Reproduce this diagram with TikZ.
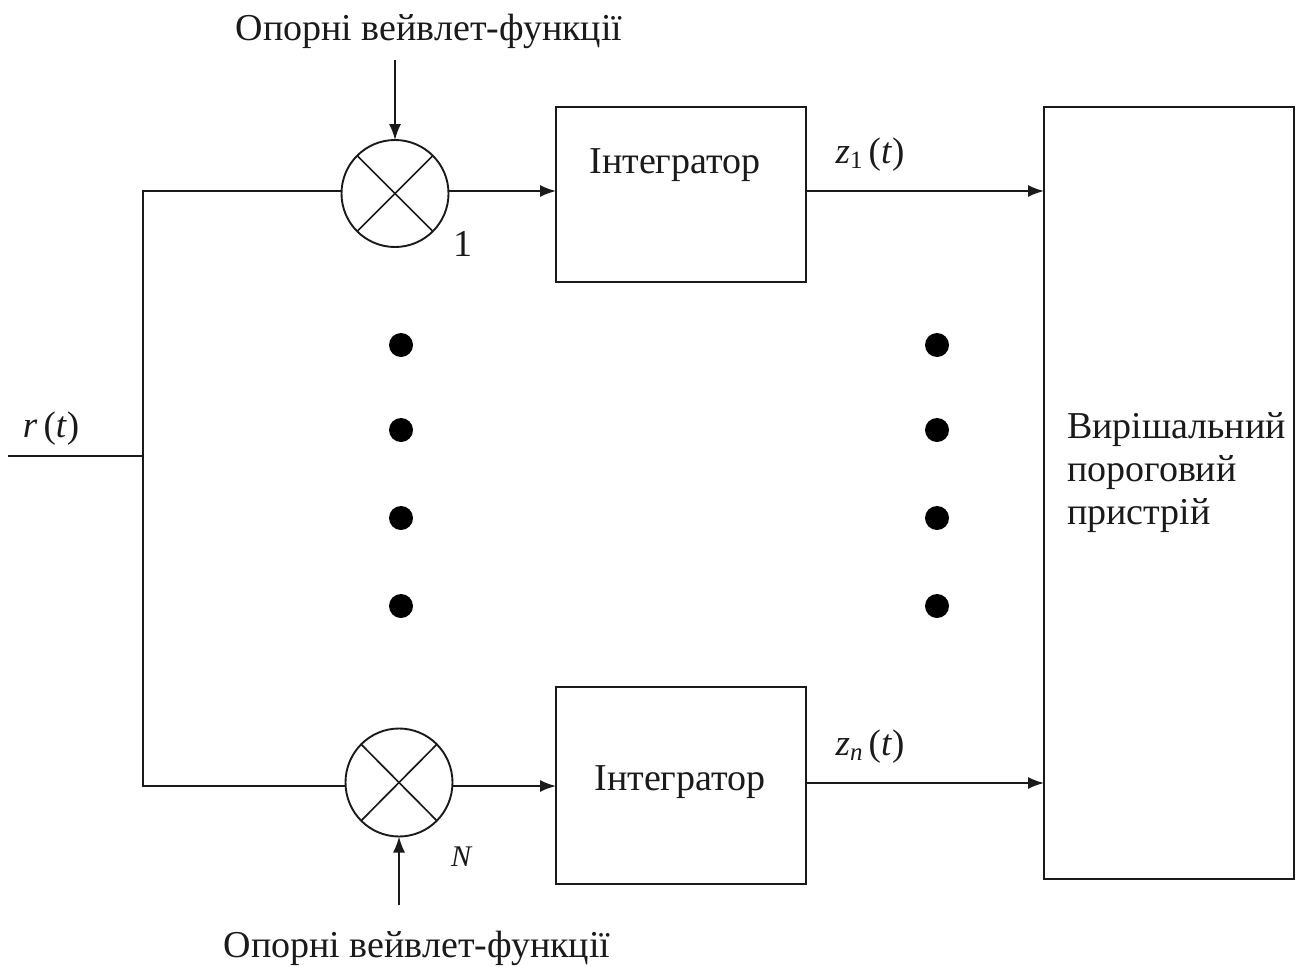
\documentclass[tikz,border=0pt]{standalone}
\usepackage{fontspec}
\setmainfont{Liberation Serif}
\usetikzlibrary{arrows.meta,shapes.geometric,calc}
\definecolor{ink}{HTML}{1A1A1A}
\tikzset{
  wire/.style={draw=ink,line width=1.7pt},
  flow/.style={wire,-{Latex[length=16pt,width=12pt]}},
  mixer/.style={ellipse,draw=ink,line width=1.9pt,minimum width=107pt,minimum height=107pt,inner sep=0pt,outer sep=0pt},
  blockbox/.style={rectangle,draw=ink,line width=1.7pt,inner sep=0pt,outer sep=0pt},
  dotmark/.style={circle,fill=black,minimum size=24pt,inner sep=0pt,outer sep=0pt},
  label/.style={text=ink,font=\fontsize{38}{45}\selectfont,inner sep=0pt,outer sep=0pt},
  mathlabel/.style={text=ink,font=\fontsize{37}{44}\selectfont,inner sep=0pt,outer sep=0pt},
}
\newcommand{\itx}[1]{\textit{#1}}
\begin{document}
\begin{tikzpicture}[x=1pt,y=-1pt]
\useasboundingbox (0,0) rectangle (1300,966);
% mixers
\node[mixer] (m1) at (395,193.5) {};
\node[mixer,minimum height=108pt] (mN) at (399,782.5) {};
\foreach \m in {m1,mN}{
  \draw[wire] (\m.north west) -- (\m.south east);
  \draw[wire] (\m.north east) -- (\m.south west);
}
% blocks
\node[blockbox,minimum width=250pt,minimum height=175pt] (i1) at (681,194.5) {};
\node[blockbox,minimum width=250pt,minimum height=197pt] (iN) at (681,785.5) {};
\node[blockbox,minimum width=250pt,minimum height=772pt] (dec) at (1169,493) {};
% texts
\node[label] (t1) at (429,31) {Опорні вейвлет-функції};
\node[label] (tN) at (417,948) {Опорні вейвлет-функції};
\node[label] (li1) at (675,165) {Інтегратор};
\node[label] (liN) at (680,782) {Інтегратор};
\node[label,anchor=west] (d1) at (1067,430) {Вирішальний};
\node[label,anchor=west] (d2) at (1067,473) {пороговий};
\node[label,anchor=west] (d3) at (1067,516) {пристрій};
\node[label] (one) at (463,244) {1};
\node[text=ink,font=\fontsize{30}{34}\selectfont\itshape,inner sep=0pt] (nn) at (461,857) {N};
\node[mathlabel] (r) at (51,429) {\itx{r}\,(\itx{t})};
\node[mathlabel] (z1) at (870,155) {\itx{z}{\fontsize{25}{28}\selectfont\raisebox{-5pt}{1}}\,(\itx{t})};
\node[mathlabel] (zn) at (870,747) {\itx{z}{\fontsize{25}{28}\selectfont\raisebox{-5pt}{\itx{n}}}\,(\itx{t})};
% free ends
\coordinate (in) at (8,456);
\coordinate (bus) at (143,456);
\coordinate (busT) at (143,191);
\coordinate (busB) at (143,786);
\coordinate (refT) at (395,60);
\coordinate (refB) at (399,905);
% connectors
\draw[wire] (in) -- (bus);
\draw[wire] (m1.west |- busT) -- (busT) -- (busB) -- (mN.west |- busB);
\draw[flow] (refT) -- (m1.north);
\draw[flow] (refB) -- (mN.south);
\draw[flow] (m1.east |- 0,191) -- (i1.west |- 0,191);
\draw[flow] (mN.east |- 0,786) -- (iN.west |- 0,786);
\draw[flow] (i1.east |- 0,191) -- (dec.west |- 0,191);
\draw[flow] (iN.east |- 0,783) -- (dec.west |- 0,783);
% dots
\foreach \n/\y in {a/345,b/430,c/518,d/606}{
  \node[dotmark] (l\n) at (401,\y) {};
  \node[dotmark] (r\n) at (937,\y) {};
}
\end{tikzpicture}
\end{document}
